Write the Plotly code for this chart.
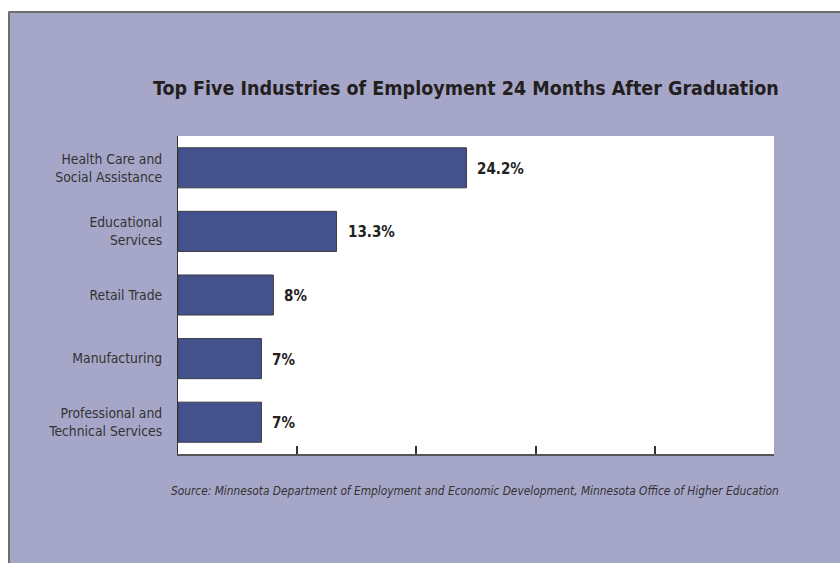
import plotly.graph_objects as go

categories = ["Health Care and<br>Social Assistance", "Educational<br>Services", "Retail Trade",
              "Manufacturing", "Professional and<br>Technical Services"]
values = [24.2, 13.3, 8, 7, 7]
value_labels = ["24.2%", "13.3%", "8%", "7%", "7%"]
x_ticks = [0, 10, 20, 30, 40, 50]

title_text = "Top Five Industries of Employment 24 Months After Graduation"
source_text = "Source: Minnesota Department of Employment and Economic Development, Minnesota Office of Higher Education"

PURPLE = "rgb(166,166,200)"
BAR = "rgb(67,82,140)"
NARROW = "Liberation Sans Narrow, DejaVu Sans Condensed, Roboto, sans-serif"

W, H = 840, 563
ml, mr, mt, mb = 178, 66, 136, 109
pw, ph = W - ml - mr, H - mt - mb


def px_x(p):
    return (p - ml) / pw


def px_y(p):
    return (H - mb - p) / ph


fig = go.Figure()
fig.add_trace(go.Bar(
    y=categories, x=values, orientation="h",
    marker=dict(color=BAR, line=dict(color="rgb(60,60,70)", width=1)),
    width=0.63, hoverinfo="skip",
))

annotations = []
for c, v, t in zip(categories, values, value_labels):
    annotations.append(dict(x=v, y=c, xref="x", yref="y", text="<b>" + t + "</b>",
                            showarrow=False, xanchor="left", xshift=9, yshift=-1,
                            font=dict(family=NARROW, size=15, color="#222")))
annotations.append(dict(x=px_x(466), y=px_y(88), xref="paper", yref="paper",
                        text="<b>" + title_text + "</b>", showarrow=False,
                        xanchor="center", yanchor="middle",
                        font=dict(family=NARROW, size=19.5, color="#231f20")))
annotations.append(dict(x=px_x(475), y=px_y(491), xref="paper", yref="paper",
                        text="<i>" + source_text + "</i>", showarrow=False,
                        xanchor="center", yanchor="middle",
                        font=dict(family=NARROW, size=11.8, color="#333")))

shapes = [
    dict(type="rect", xref="paper", yref="paper", x0=px_x(-5), x1=px_x(845), y0=px_y(-5), y1=px_y(11),
         fillcolor="white", line=dict(width=0), layer="below"),
    dict(type="rect", xref="paper", yref="paper", x0=px_x(-5), x1=px_x(8), y0=px_y(570), y1=px_y(-5),
         fillcolor="white", line=dict(width=0), layer="below"),
    dict(type="line", xref="paper", yref="paper", x0=px_x(9), x1=px_x(845), y0=px_y(12), y1=px_y(12),
         line=dict(color="#6e6e72", width=2)),
    dict(type="line", xref="paper", yref="paper", x0=px_x(9), x1=px_x(9), y0=px_y(12), y1=px_y(570),
         line=dict(color="#6e6e72", width=2)),
]

fig.update_layout(
    width=W, height=H,
    margin=dict(l=ml, r=mr, t=mt, b=mb, pad=0),
    paper_bgcolor=PURPLE, plot_bgcolor="white",
    showlegend=False,
    annotations=annotations, shapes=shapes,
    xaxis=dict(range=[0, 50], tickvals=x_ticks, showticklabels=False, ticks="inside",
               ticklen=8, tickwidth=1.5, tickcolor="#333", showgrid=False, zeroline=False,
               showline=True, linecolor="#555", linewidth=2, fixedrange=True),
    yaxis=dict(autorange="reversed", showgrid=False, zeroline=False, showline=True,
               linecolor="#333", linewidth=1, ticks="", ticklabelstandoff=12,
               tickfont=dict(family=NARROW, size=13.8, color="#333"), fixedrange=True),
)

fig.write_html("out.html")
